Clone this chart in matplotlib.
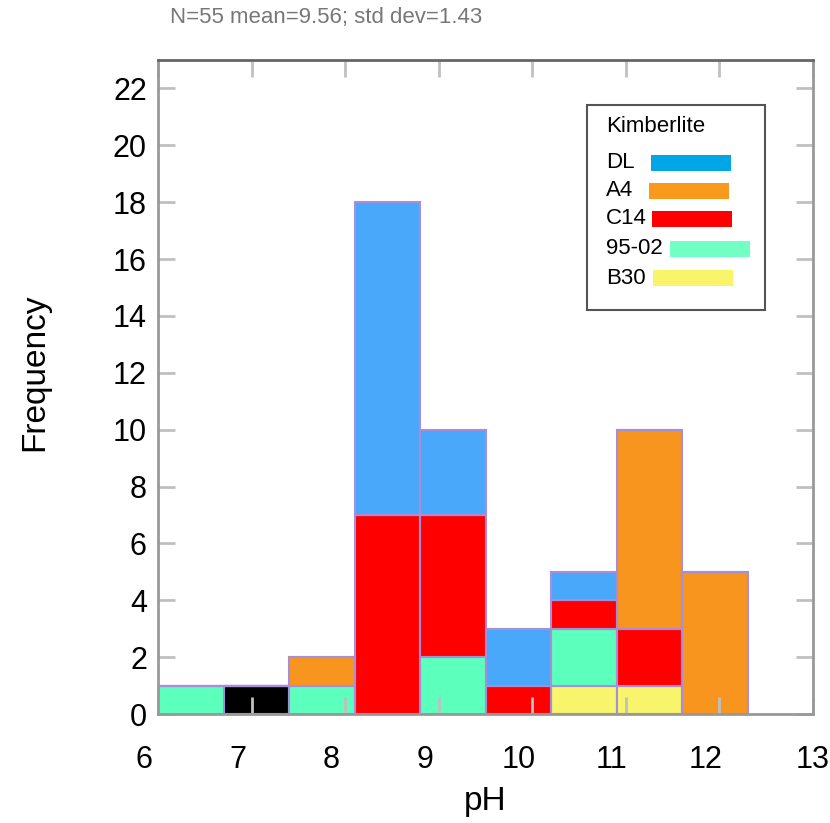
import numpy as np
import matplotlib.pyplot as plt
import matplotlib.transforms as mtransforms
from matplotlib.patches import Rectangle

plt.rcParams['font.family'] = ['Liberation Sans', 'DejaVu Sans']

# bin left edges (pH), width 0.7
bin_left = [6.0, 6.7, 7.4, 8.1, 8.8, 9.5, 10.2, 10.9, 11.6]
bin_width = 0.7

# counts per kimberlite, stacked bottom -> top
other = [0, 1, 0, 0, 0, 0, 0, 0, 0]
b30 = [0, 0, 0, 0, 0, 0, 1, 1, 0]
k9502 = [1, 0, 1, 0, 2, 0, 2, 0, 0]
c14 = [0, 0, 0, 7, 5, 1, 1, 2, 0]
a4 = [0, 0, 1, 0, 0, 0, 0, 7, 5]
dl = [0, 0, 0, 11, 3, 2, 1, 0, 0]

series = [
    ('', other, 'black'),
    ('B30', b30, '#f8f46c'),
    ('95-02', k9502, '#5cffbc'),
    ('C14', c14, '#ff0000'),
    ('A4', a4, '#f7951e'),
    ('DL', dl, '#4aa8fb'),
]
legend_names = ['DL', 'A4', 'C14', '95-02', 'B30']
legend_colors = ['#00a6e6', '#f99a1c', '#ff0000', '#72ffc4', '#faf46a']

W, H = 830, 823
fig = plt.figure(figsize=(W / 100, H / 100), dpi=100)
ax = fig.add_axes([158 / W, 1 - 714 / H, 655 / W, 654 / H])

bottom = np.zeros(len(bin_left))
for name, vals, col in series:
    vals = np.array(vals, dtype=float)
    ax.bar(bin_left, vals, width=bin_width, bottom=bottom, align='edge',
           color=col, edgecolor='#a68fd8', linewidth=1.5)
    bottom += vals

ax.set_xlim(6, 13)
ax.set_ylim(0, 23)
ax.set_xticks(range(6, 14))
ax.set_yticks(range(0, 23, 2))
ax.tick_params(axis='both', direction='in', length=12, width=2, color='#c0c0c0',
               labelsize=22, top=True, right=True, pad=8)
ax.tick_params(axis='x', pad=22)
for s in ax.spines.values():
    s.set_color('#999999')
    s.set_linewidth(2)
ax.spines['top'].set_color('#666666')

# x tick labels sit a bit left of their ticks in the original
shift = mtransforms.ScaledTranslation(-14 / 100, 0, fig.dpi_scale_trans)
for lab in ax.get_xticklabels()[:-1]:
    lab.set_transform(lab.get_transform() + shift)

ax.set_xlabel('pH', fontsize=24, labelpad=8)
ax.set_ylabel('Frequency', fontsize=24)
ax.yaxis.set_label_coords(-0.165, 0.523)

fig.text(170 / W, 1 - 18 / H, 'N=55 mean=9.56; std dev=1.43', fontsize=16,
         color='#777777', va='center')

# legend box drawn by hand (text left, colour bar right)
def fx(px):
    return px / W

def fy(py):
    return 1 - py / H

fig.patches.append(Rectangle((fx(587), fy(310)), fx(765) - fx(587), fy(105) - fy(310),
                             transform=fig.transFigure, facecolor='white',
                             edgecolor='#555555', linewidth=1.5, zorder=5))
fig.text(fx(606), fy(127), 'Kimberlite', fontsize=16, va='center', zorder=6)
row_y = [163, 191, 219, 249, 278]
bar_x = [651, 649, 652, 670, 653]
for name, col, y, bx in zip(legend_names, legend_colors, row_y, bar_x):
    fig.text(fx(606), fy(y), name, fontsize=16, va='center', zorder=6)
    fig.patches.append(Rectangle((fx(bx), fy(y + 8)), fx(80), fy(0) - fy(16),
                                 transform=fig.transFigure, facecolor=col,
                                 edgecolor='none', zorder=6))

fig.savefig('out.png', dpi=100)
